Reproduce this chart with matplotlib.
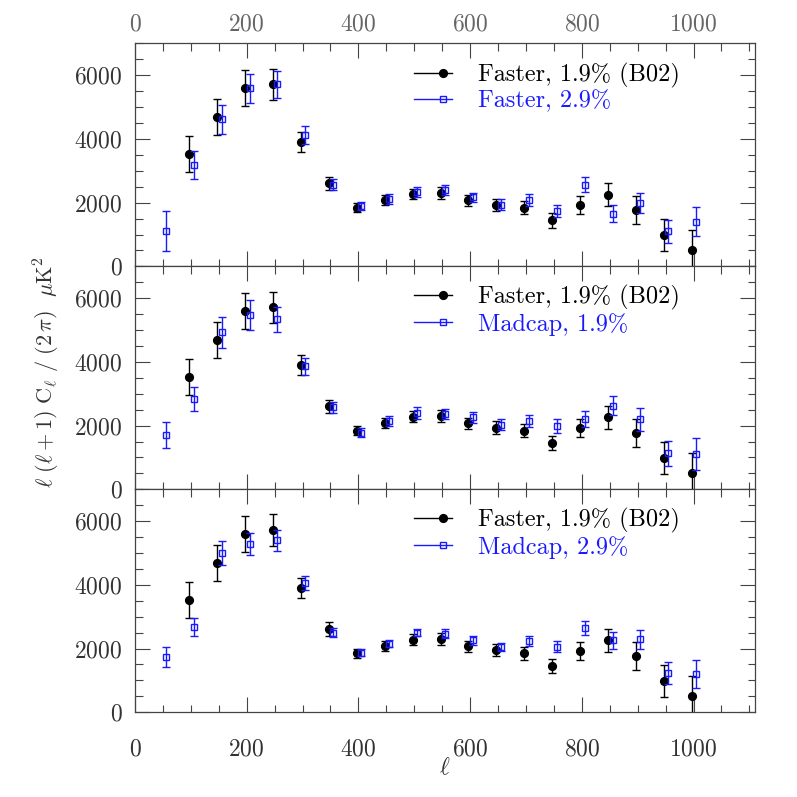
import matplotlib
matplotlib.use('Agg')
import matplotlib.pyplot as plt
from matplotlib.lines import Line2D
from matplotlib.legend_handler import HandlerLine2D
from matplotlib.ticker import MultipleLocator

plt.rcParams['font.family'] = ['cmr10', 'DejaVu Serif']
plt.rcParams['mathtext.fontset'] = 'cm'
plt.rcParams['axes.unicode_minus'] = False
plt.rcParams['axes.formatter.use_mathtext'] = True

# ---------------- data ----------------
ell_b02 = [97, 147, 197, 247, 297, 347, 397, 447, 497, 547, 597, 647, 697, 747, 797, 847, 897, 947, 997]
cl_b02 = [3530, 4690, 5600, 5720, 3910, 2610, 1845, 2075, 2275, 2305, 2075, 1940, 1845, 1450, 1930, 2255, 1770, 990, 515]
err_b02 = [560, 555, 555, 490, 320, 210, 140, 155, 170, 180, 170, 190, 210, 230, 290, 355, 430, 500, 620]

ell_cmp = [55, 105, 155, 205, 255, 305, 355, 405, 455, 505, 555, 605, 655, 705, 755, 805, 855, 905, 955, 1005]
cl_faster29 = [1120, 3190, 4620, 5590, 5720, 4120, 2565, 1885, 2115, 2335, 2390, 2170, 1940, 2075, 1745, 2570, 1660, 1990, 1100, 1405]
err_faster29 = [630, 435, 455, 455, 420, 275, 170, 125, 150, 160, 155, 140, 170, 190, 195, 245, 265, 325, 360, 460]
cl_madcap19 = [1705, 2840, 4925, 5480, 5335, 3860, 2570, 1780, 2145, 2400, 2370, 2260, 2025, 2145, 1990, 2215, 2625, 2195, 1130, 1105]
err_madcap19 = [410, 370, 485, 465, 400, 270, 170, 135, 150, 190, 160, 165, 170, 190, 215, 250, 300, 365, 400, 505]
cl_madcap29 = [1735, 2670, 4995, 5295, 5395, 4055, 2500, 1870, 2150, 2500, 2465, 2260, 2050, 2235, 2050, 2650, 2265, 2290, 1235, 1200]
err_madcap29 = [315, 280, 380, 345, 320, 225, 145, 105, 115, 115, 135, 135, 135, 155, 175, 225, 265, 305, 340, 430]

label_b02 = 'Faster, 1.9% (B02)'
panel_labels = ['Faster, 2.9%', 'Madcap, 1.9%', 'Madcap, 2.9%']
panel_vals = [cl_faster29, cl_madcap19, cl_madcap29]
panel_errs = [err_faster29, err_madcap19, err_madcap29]

BLUE = '#1a1aff'
AXC = '#444444'
FS = 17
LFS = 17.5


class MarkerRightHandler(HandlerLine2D):
    def create_artists(self, legend, orig_handle, xdescent, ydescent,
                       width, height, fontsize, trans):
        y = height / 2 - ydescent
        line = Line2D([-xdescent, -xdescent + width], [y, y],
                      color=orig_handle.get_color(),
                      lw=orig_handle.get_linewidth())
        mk = Line2D([-xdescent + 0.76 * width], [y], linestyle='none',
                    marker=orig_handle.get_marker(),
                    markersize=orig_handle.get_markersize(),
                    markerfacecolor=orig_handle.get_markerfacecolor(),
                    markeredgecolor=orig_handle.get_markeredgecolor(),
                    markeredgewidth=orig_handle.get_markeredgewidth())
        line.set_transform(trans)
        mk.set_transform(trans)
        return [line, mk]


W = H = 797.0
fig = plt.figure(figsize=(7.97, 7.97), dpi=100)
left = 135 / W
width = 620 / W
ph = 222.9 / H
tops = [43.5, 266.4, 489.3]

for i in range(3):
    bottom = 1 - (tops[i] + 222.9) / H
    ax = fig.add_axes([left, bottom, width, ph])
    ax.errorbar(ell_b02, cl_b02, yerr=err_b02, fmt='o', color='black',
                ms=5.6, elinewidth=1.0, capsize=3, capthick=1.0, zorder=3)
    ax.errorbar(ell_cmp, panel_vals[i], yerr=panel_errs[i], fmt='s', color=BLUE,
                mfc='none', mec=BLUE, mew=1.0, ms=4.6, elinewidth=1.0,
                capsize=3, capthick=1.0, zorder=4)
    ax.set_xlim(0, 1110)
    ax.set_ylim(0, 7000)
    ax.xaxis.set_major_locator(MultipleLocator(200))
    ax.xaxis.set_minor_locator(MultipleLocator(50))
    ax.yaxis.set_major_locator(MultipleLocator(2000))
    ax.yaxis.set_minor_locator(MultipleLocator(500))
    ax.tick_params(which='both', direction='in', top=True, right=True,
                   color=AXC, width=0.8, labelsize=FS, labelcolor='#333333')
    ax.tick_params(which='major', length=11)
    ax.tick_params(which='minor', length=5.4)
    ax.tick_params(axis='y', pad=9)
    for s in ax.spines.values():
        s.set_color(AXC)
        s.set_linewidth(0.9)
    if i == 0:
        ax.tick_params(axis='x', labeltop=True, labelbottom=False, pad=6,
                       labelcolor='#666666')
    elif i == 1:
        ax.tick_params(axis='x', labeltop=False, labelbottom=False)
    else:
        ax.tick_params(axis='x', labeltop=False, labelbottom=True, pad=19)

    h1 = Line2D([], [], color='black', lw=1.0, marker='o', ms=5.6,
                mfc='black', mec='black')
    h2 = Line2D([], [], color=BLUE, lw=1.0, marker='s', ms=4.6,
                mfc='none', mec=BLUE, mew=1.0)
    leg = ax.legend([h1, h2], [label_b02, panel_labels[i]], loc='upper left',
                    bbox_to_anchor=(0.45, 0.915), frameon=False, fontsize=LFS,
                    borderpad=0, borderaxespad=0, handlelength=1.55,
                    handletextpad=1.1, labelspacing=0.1,
                    handler_map={Line2D: MarkerRightHandler()})
    leg.get_texts()[0].set_color('black')
    leg.get_texts()[1].set_color(BLUE)

fig.text(47 / W, 1 - 372 / H,
         r'$\ell\,\,(\ell+1)\,\,\mathrm{C}_\ell\,\,/\,\,(2\,\pi)\ \ \mu\mathrm{K}^2$',
         rotation=90, ha='center', va='center', fontsize=16, color='#333333')
fig.text(445 / W, 1 - 768 / H, r'$\ell$', ha='center', va='center',
         fontsize=FS, color='#333333')

fig.savefig('out.png', dpi=100)
